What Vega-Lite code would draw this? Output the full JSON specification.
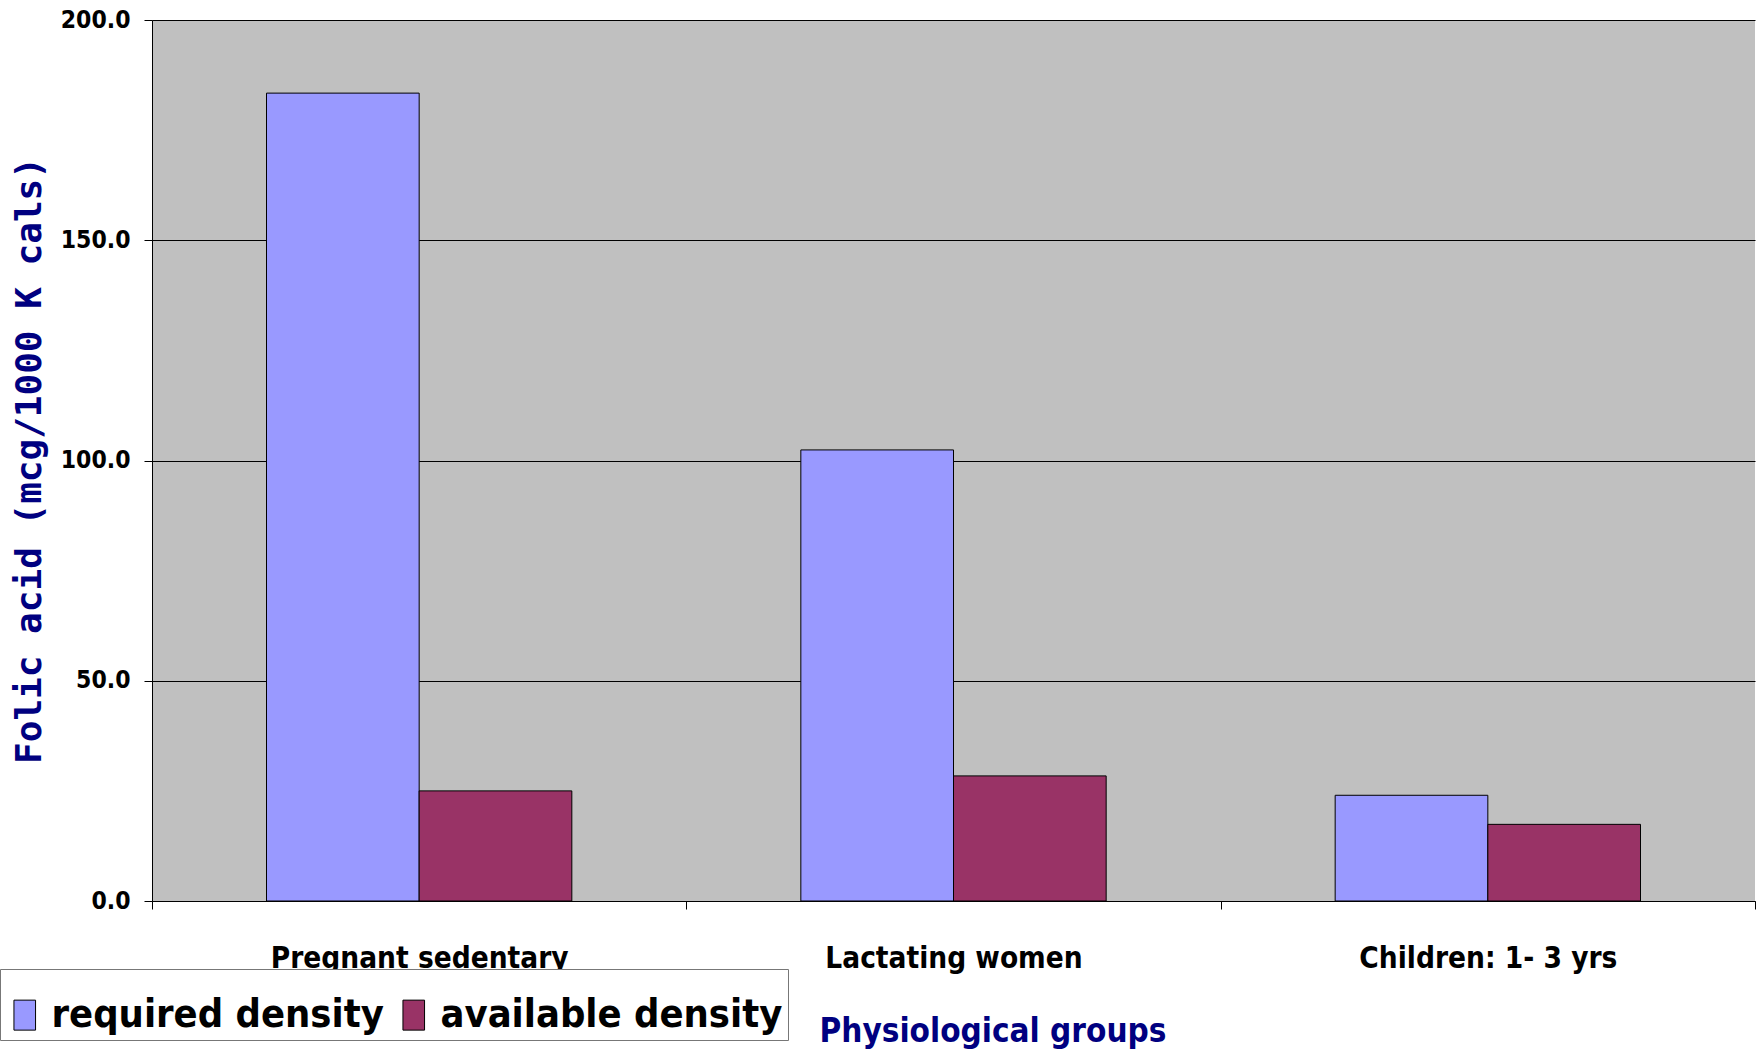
{
  "$schema": "https://vega.github.io/schema/vega-lite/v6.json",
  "autosize": "none",
  "padding": {"left": 152, "top": 20, "right": 7, "bottom": 149},
  "width": 1603,
  "height": 881,
  "background": "white",
  "data": {"values": [
    {"group": "Pregnant sedentary", "series": "required density", "value": 183.4},
    {"group": "Pregnant sedentary", "series": "available density", "value": 25.0},
    {"group": "Lactating women", "series": "required density", "value": 102.4},
    {"group": "Lactating women", "series": "available density", "value": 28.4},
    {"group": "Children: 1- 3 yrs", "series": "required density", "value": 24.0},
    {"group": "Children: 1- 3 yrs", "series": "available density", "value": 17.4}
  ]},
  "mark": {"type": "bar", "stroke": "black", "strokeWidth": 1},
  "encoding": {
    "x": {
      "field": "group", "type": "nominal",
      "sort": ["Pregnant sedentary", "Lactating women", "Children: 1- 3 yrs"],
      "scale": {"paddingInner": 0, "paddingOuter": 0},
      "axis": {
        "title": "Physiological groups",
        "titleFont": "DejaVu Sans Condensed", "titleFontWeight": "bold", "titleFontSize": 33,
        "titleColor": "#000080", "titleAnchor": "start", "titleAlign": "left",
        "titleX": 667, "titleY": 140, "titleBaseline": "alphabetic",
        "labelFont": "DejaVu Sans Condensed", "labelFontWeight": "bold", "labelFontSize": 29.5,
        "labelColor": "black", "labelAngle": 0, "labelBaseline": "alphabetic", "labelPadding": 58,
        "labelLimit": 0,
        "tickBand": "extent", "tickSize": 8, "tickColor": "black",
        "domainColor": "black", "grid": false
      }
    },
    "xOffset": {
      "field": "series", "type": "nominal",
      "sort": ["required density", "available density"],
      "scale": {"paddingInner": 0, "paddingOuter": 0.75}
    },
    "y": {
      "field": "value", "type": "quantitative",
      "scale": {"domain": [0, 200], "nice": false},
      "axis": {
        "values": [0, 50, 100, 150, 200], "format": ".1f",
        "title": "Folic acid (mcg/1000 K cals)",
        "titleFont": "DejaVu Sans Mono", "titleFontWeight": "bold", "titleFontSize": 36,
        "titleColor": "#000080", "titleX": -123, "titleY": 440, "titleBaseline": "middle", "titleAlign": "center",
        "labelFont": "DejaVu Sans Condensed", "labelFontWeight": "bold", "labelFontSize": 24.5,
        "labelColor": "black", "labelPadding": 14,
        "tickSize": 8, "tickColor": "black",
        "domainColor": "black",
        "grid": true, "gridColor": "black", "gridOpacity": 1, "gridWidth": 1
      }
    },
    "color": {
      "field": "series", "type": "nominal",
      "sort": ["required density", "available density"],
      "scale": {"domain": ["required density", "available density"], "range": ["#9999FF", "#993366"]},
      "legend": {
        "title": " ", "titleFontSize": 10, "titlePadding": 11,
        "orient": "none", "direction": "horizontal",
        "legendX": -152, "legendY": 949,
        "fillColor": "white", "strokeColor": "#777777", "padding": 5,
        "labelFont": "DejaVu Sans Condensed", "labelFontWeight": "bold", "labelFontSize": 39.5,
        "labelColor": "black", "labelOffset": 7, "columnPadding": 10,
        "symbolType": "M-0.72,-1H0.72V1H-0.72Z", "symbolSize": 900,
        "symbolStrokeColor": "black", "symbolStrokeWidth": 1, "symbolOpacity": 1,
        "labelLimit": 600
      }
    }
  },
  "config": {
    "view": {"fill": "#C0C0C0", "stroke": null}
  }
}
